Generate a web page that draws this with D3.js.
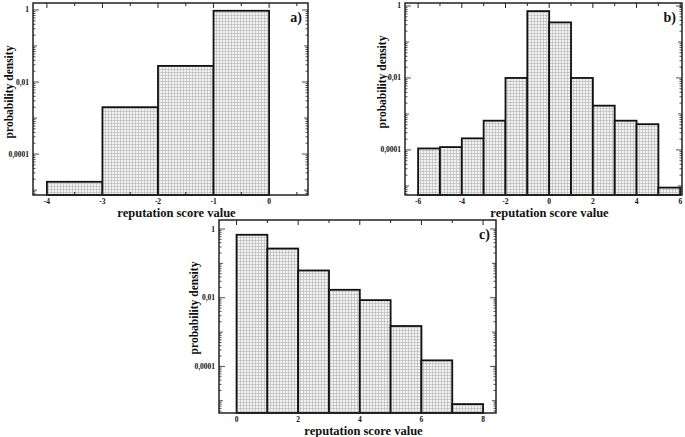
<!DOCTYPE html>
<html>
<head>
<meta charset="utf-8" />
<title>reputation score histograms</title>
<script src="https://d3js.org/d3.v7.min.js"></script>
<style>
  body { margin: 0; background: #fff; }
  text { font-family: "Liberation Serif", "DejaVu Serif", serif; font-weight: bold; fill: #111; }
</style>
</head>
<body>
<script>
// panel a
var edgesA = [-4, -3, -2, -1, 0];
var densA = [1.7e-5, 0.002, 0.028, 0.95];
var ticksA = [-4, -3, -2, -1, 0];
var minorA = [-3.5, -2.5, -1.5, -0.5, 0.5];

// panel b
var edgesB = [-6, -5, -4, -3, -2, -1, 0, 1, 2, 3, 4, 5, 6];
var densB = [1.1e-4, 1.2e-4, 2.1e-4, 6.5e-4, 0.01, 0.72, 0.35, 0.01, 0.0017, 6.5e-4, 5.2e-4, 9e-6];
var ticksB = [-6, -4, -2, 0, 2, 4, 6];
var minorB = [-5, -3, -1, 1, 3, 5];

// panel c
var edgesC = [0, 1, 2, 3, 4, 5, 6, 7, 8];
var densC = [0.68, 0.27, 0.062, 0.017, 0.0085, 0.0015, 1.5e-4, 8e-6];
var ticksC = [0, 2, 4, 6, 8];
var minorC = [1, 3, 5, 7];

var yTicks = [1, 0.01, 0.0001];
var yLabels = ['1', '0,01', '0,0001'];

var svg = d3.select('body').append('svg')
    .attr('width', 685)
    .attr('height', 437);

var pat = svg.append('defs').append('pattern')
    .attr('id', 'dots')
    .attr('width', 3).attr('height', 3)
    .attr('patternUnits', 'userSpaceOnUse');
pat.append('rect').attr('width', 3).attr('height', 3).attr('fill', '#f2f2f2');
pat.append('path').attr('d', 'M0,0.5H3M0.5,0V3')
    .attr('stroke', '#b4b4b4').attr('stroke-width', 0.6);

var panels = [
    { edges: edgesA, dens: densA, ticks: ticksA, minor: minorA, tag: 'a)',
      left: 33, right: 308, top: 3, bottom: 195, xdom: [-4.25, 0.7], ydom: [7.3e-6, 1.56],
      ylabX: 9, ylabY: 92, xlabY: 217 },
    { edges: edgesB, dens: densB, ticks: ticksB, minor: minorB, tag: 'b)',
      left: 405, right: 682, top: 3, bottom: 195, xdom: [-6.6, 6.08], ydom: [5.6e-6, 1.21],
      ylabX: 382, ylabY: 82, xlabY: 217 },
    { edges: edgesC, dens: densC, ticks: ticksC, minor: minorC, tag: 'c)',
      left: 219, right: 496, top: 220, bottom: 413, xdom: [-0.57, 8.42], ydom: [4.4e-6, 1.83],
      ylabX: 194, ylabY: 308, xlabY: 435 }
];

panels.forEach(function (p) {
    var x = d3.scaleLinear().domain(p.xdom).range([p.left, p.right]);
    var y = d3.scaleLog().domain(p.ydom).range([p.bottom, p.top]);
    var g = svg.append('g');

    // bars
    g.selectAll('.bar')
        .data(p.dens)
        .enter()
        .append('rect')
        .attr('x', function (d, i) { return x(p.edges[i]); })
        .attr('width', function (d, i) { return x(p.edges[i + 1]) - x(p.edges[i]); })
        .attr('y', function (d) { return y(d); })
        .attr('height', function (d) { return p.bottom - y(d); })
        .attr('fill', 'url(#dots)')
        .attr('stroke', '#111')
        .attr('stroke-width', 1.8);

    // frame
    g.append('rect')
        .attr('x', p.left).attr('y', p.top)
        .attr('width', p.right - p.left).attr('height', p.bottom - p.top)
        .attr('fill', 'none').attr('stroke', '#222').attr('stroke-width', 1.5);

    // x ticks (bottom and top, inward)
    var xt = [];
    p.ticks.forEach(function (t) { xt.push({ v: t, len: 5 }); });
    p.minor.forEach(function (t) { xt.push({ v: t, len: 3 }); });
    xt = xt.filter(function (t) { return t.v >= p.xdom[0] && t.v <= p.xdom[1]; });
    g.selectAll('.xt').data(xt).enter().append('path')
        .attr('d', function (t) {
            return 'M' + x(t.v) + ',' + p.bottom + 'v' + (-t.len) +
                'M' + x(t.v) + ',' + p.top + 'v' + t.len;
        })
        .attr('stroke', '#222').attr('stroke-width', 1);

    g.selectAll('.xl').data(p.ticks).enter().append('text')
        .attr('x', function (t) { return x(t); })
        .attr('y', p.bottom + 8.5)
        .attr('text-anchor', 'middle')
        .attr('font-size', 7.5)
        .text(function (t) { return t; });

    // y ticks (log, left and right)
    var yt = [];
    var lo = Math.floor(Math.log10(p.ydom[0])), hi = Math.ceil(Math.log10(p.ydom[1]));
    for (var e = lo; e <= hi; e++) {
        for (var k = 1; k <= 9; k++) {
            var v = k * Math.pow(10, e);
            if (v < p.ydom[0] || v > p.ydom[1]) continue;
            var major = (k === 1 && e % 2 === 0);
            yt.push({ v: v, len: major ? 6 : (k === 1 ? 4 : 2.5) });
        }
    }
    g.selectAll('.yt').data(yt).enter().append('path')
        .attr('d', function (t) {
            return 'M' + p.left + ',' + y(t.v) + 'h' + t.len +
                'M' + p.right + ',' + y(t.v) + 'h' + (-t.len);
        })
        .attr('stroke', '#222').attr('stroke-width', 0.8);

    g.selectAll('.yl').data(yTicks).enter().append('text')
        .attr('x', p.left - 4)
        .attr('y', function (t) { return y(t) + 2.5; })
        .attr('text-anchor', 'end')
        .attr('font-size', 7.5)
        .text(function (t, i) { return yLabels[i]; });

    // titles
    g.append('text')
        .attr('x', (p.left + p.right) / 2 + 6)
        .attr('y', p.xlabY)
        .attr('text-anchor', 'middle')
        .attr('font-size', 12.5)
        .text('reputation score value');

    g.append('text')
        .attr('transform', 'translate(' + p.ylabX + ',' + p.ylabY + ') rotate(-90)')
        .attr('text-anchor', 'middle')
        .attr('dy', '0.35em')
        .attr('font-size', 11.5)
        .text('probability density');

    g.append('text')
        .attr('x', p.right - 6)
        .attr('y', p.top + 19)
        .attr('text-anchor', 'end')
        .attr('font-size', 14)
        .text(p.tag);
});
</script>
</body>
</html>
